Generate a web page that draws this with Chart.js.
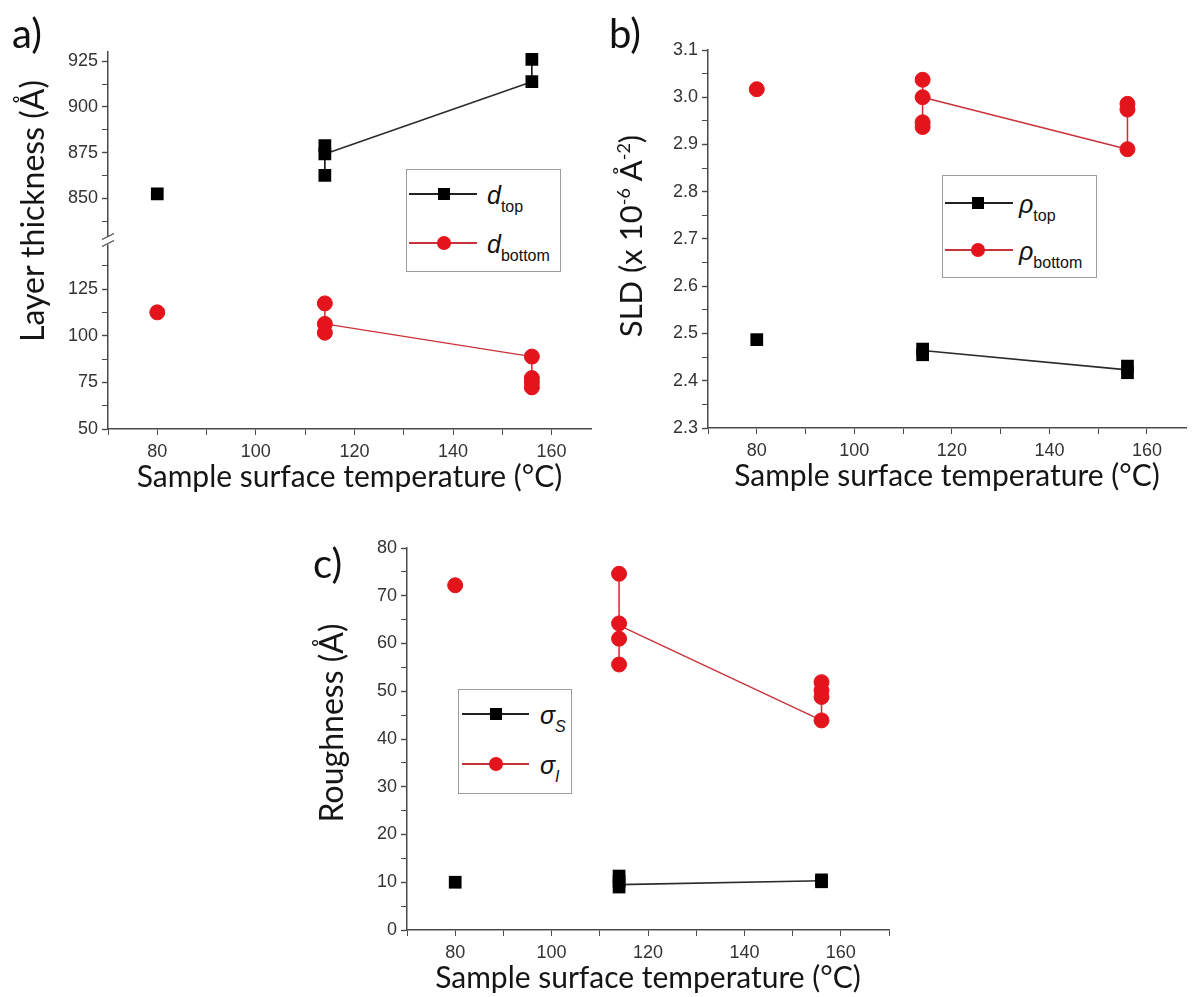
<!DOCTYPE html>
<html>
<head>
<meta charset="utf-8">
<script src="https://cdn.jsdelivr.net/npm/chart.js"></script>
<style>
  body { margin: 0; background: #fff; width: 1195px; height: 997px; overflow: hidden; position: relative; font-family: Lato, "Liberation Sans", sans-serif; }
  canvas { position: absolute; }
  .tag { position: absolute; font-size: 40px; line-height: 40px; color: #111; z-index: 2; }
  .ytitle { position: absolute; font-size: 32px; color: #151515; white-space: nowrap; transform: translate(-50%, -50%) rotate(-90deg); z-index: 2; }
  .ytitle sup { font-size: 18px; vertical-align: 12px; line-height: 0; }
  .legend { position: absolute; border: 1px solid #9d9d9d; background: #fff; z-index: 2; }
  .item { position: absolute; left: 0; right: 0; height: 0; }
  .ln { position: absolute; left: 2px; width: 68px; top: -1px; height: 1.6px; }
  .sq { position: absolute; top: -6px; width: 12px; height: 12px; background: #000; }
  .dot { position: absolute; top: -7px; width: 14px; height: 14px; border-radius: 50%; background: #e3141b; }
  .lab { position: absolute; top: -14px; line-height: 30px; font-family: "Liberation Sans", sans-serif; font-size: 25px; color: #111; white-space: nowrap; }
  .lab sub { font-size: 16px; font-style: normal; vertical-align: -8px; line-height: 0; }
  .lab sub.it { font-style: italic; }
</style>
</head>
<body>

<canvas id="chartA" width="600" height="499" style="left:0;top:0"></canvas>
<canvas id="chartB" width="595" height="498" style="left:600px;top:0"></canvas>
<canvas id="chartC" width="610" height="500" style="left:290px;top:500px"></canvas>

<div class="tag" style="left:12px;top:13px">a)</div>
<div class="tag" style="left:609px;top:13px">b)</div>
<div class="tag" style="left:313px;top:543px">c)</div>

<div class="ytitle" style="left:31px;top:211px">Layer thickness (Å)</div>
<div class="ytitle" style="left:630px;top:236px;font-size:31px">SLD (x 10<sup>-6</sup> Å<sup>-2</sup>)</div>
<div class="ytitle" style="left:330px;top:723px">Roughness (Å)</div>

<div class="legend" style="left:406px;top:169px;width:153px;height:101px">
  <div class="item" style="top:24px"><i class="ln" style="background:#222"></i><i class="sq" style="left:31px"></i><span class="lab" style="left:80px"><i>d</i><sub>top</sub></span></div>
  <div class="item" style="top:73px"><i class="ln" style="background:#c8323a"></i><i class="dot" style="left:30px"></i><span class="lab" style="left:80px"><i>d</i><sub>bottom</sub></span></div>
</div>
<div class="legend" style="left:942px;top:175px;width:153px;height:101px">
  <div class="item" style="top:27px"><i class="ln" style="background:#222"></i><i class="sq" style="left:29px"></i><span class="lab" style="left:76px"><i>ρ</i><sub>top</sub></span></div>
  <div class="item" style="top:74px"><i class="ln" style="background:#c8323a"></i><i class="dot" style="left:28px"></i><span class="lab" style="left:76px"><i>ρ</i><sub>bottom</sub></span></div>
</div>
<div class="legend" style="left:458px;top:689px;width:112px;height:103px">
  <div class="item" style="top:24px"><i class="ln" style="background:#222;left:3px;width:67px"></i><i class="sq" style="left:31px"></i><span class="lab" style="left:81px"><i>σ</i><sub class="it">S</sub></span></div>
  <div class="item" style="top:74px"><i class="ln" style="background:#c8323a;left:3px;width:67px"></i><i class="dot" style="left:30px"></i><span class="lab" style="left:81px"><i>σ</i><sub class="it">I</sub></span></div>
</div>

<script>
// ---- data ----
const TREND_T = [114, 156];

// a) layer thickness
const A_TEMP_TOP = [80, 114, 114, 114, 156, 156];
const A_D_TOP = [852.5, 878.8, 874.3, 862.6, 926, 913.8];
const A_D_TOP_TREND = [874.3, 913.8];
const A_TEMP_BOTTOM = [80, 114, 114, 114, 156, 156, 156, 156];
const A_D_BOTTOM = [112.5, 117.3, 106.3, 101.6, 88.8, 77.3, 75, 72.3];
const A_D_BOTTOM_TREND = [106.3, 88.8];
const A_TICKS_TOP = [850, 875, 900, 925];
const A_TICKS_BOTTOM = [50, 75, 100, 125];

// b) SLD
const B_TEMP_TOP = [80, 114, 114, 156, 156];
const B_RHO_TOP = [2.487, 2.467, 2.455, 2.431, 2.417];
const B_RHO_TOP_TREND = [2.464, 2.423];
const B_TEMP_BOTTOM = [80, 114, 114, 114, 114, 156, 156, 156];
const B_RHO_BOTTOM = [3.017, 3.037, 3.0, 2.947, 2.937, 2.986, 2.974, 2.89];
const B_RHO_BOTTOM_TREND = [3.0, 2.89];
const B_TICKS = [2.3, 2.4, 2.5, 2.6, 2.7, 2.8, 2.9, 3.0, 3.1];

// c) roughness
const C_TEMP_S = [80, 114, 114, 114, 156, 156];
const C_SIGMA_S = [10.0, 11.3, 10.2, 9.0, 10.5, 10.1];
const C_SIGMA_S_TREND = [9.5, 10.3];
const C_TEMP_I = [80, 114, 114, 114, 114, 156, 156, 156, 156];
const C_SIGMA_I = [72.2, 74.6, 64.2, 61.0, 55.6, 51.9, 50.2, 48.8, 43.9];
const C_SIGMA_I_TREND = [63.8, 43.9];
const C_TICKS = [0, 10, 20, 30, 40, 50, 60, 70, 80];

const X_TICKS = [80, 100, 120, 140, 160];

// ---- styling ----
const AXIS = '#4a4a4a';
const TICK_COLOR = '#333333';
const TICK_FONT = { family: 'Liberation Sans', size: 18 };
const TITLE_FONT = { family: 'Lato', size: 30 };
const BLACK = '#000000';
const RED = '#e3141b';
const RED_LINE = '#c8323a';

function pts(xs, ys) {
    return xs.map((x, i) => ({ x, y: ys[i] }));
}

// vertical segment joining the values measured at the same temperature
function ranges(xs, ys) {
    const out = [];
    [...new Set(xs)].forEach(t => {
        const v = ys.filter((_, i) => xs[i] === t);
        if (v.length < 2) return;
        out.push({ x: t, y: Math.min(...v) }, { x: t, y: Math.max(...v) }, { x: t, y: null });
    });
    return out;
}

function withMinors(majors, min, max) {
    const step = majors[1] - majors[0];
    const all = new Set(majors);
    majors.forEach(m => {
        [m - step / 2, m + step / 2].forEach(v => {
            if (v >= min - 1e-9 && v <= max + 1e-9) all.add(+v.toFixed(6));
        });
    });
    return [...all].sort((a, b) => a - b);
}

function series(xs, ys, trend, color, lineColor, style, yAxisID) {
    const isSq = style === 'rect';
    return [
        { data: pts(xs, ys), showLine: false, pointStyle: style, pointRadius: isSq ? 9 : 7.5, pointHoverRadius: isSq ? 9 : 7.5,
          backgroundColor: color, borderColor: color, borderWidth: isSq ? 0 : 1, yAxisID, order: 0 },
        { data: ranges(xs, ys), showLine: true, spanGaps: false, pointRadius: 0, borderColor: isSq ? BLACK : '#d9262b',
          borderWidth: 1.5, yAxisID, order: 1 },
        { data: pts(TREND_T, trend), showLine: true, pointRadius: 0, borderColor: lineColor, borderWidth: isSq ? 1.6 : 1.4,
          yAxisID, order: 1 }
    ];
}

function yScale(min, max, majors, fmt, width, extra) {
    const majorSet = new Set(majors);
    const values = withMinors(majors, min, max);
    return Object.assign({
        axis: 'y', type: 'linear', position: 'left', min, max,
        border: { color: AXIS, width: 1.5 },
        grid: { drawOnChartArea: false, drawTicks: true, tickLength: 6, tickColor: AXIS,
                tickWidth: ctx => majorSet.has(ctx.tick && ctx.tick.value) ? 1.4 : 1 },
        ticks: { autoSkip: false, padding: 4, color: TICK_COLOR, font: TICK_FONT,
                 callback: v => majorSet.has(v) ? fmt(v) : '' },
        afterBuildTicks: s => { s.ticks = values.map(value => ({ value })); },
        afterFit: s => { s.width = width; }
    }, extra || {});
}

function xScale(min, max) {
    const majorSet = new Set(X_TICKS);
    const values = withMinors(X_TICKS, min, max);
    return {
        axis: 'x', type: 'linear', position: 'bottom', min, max,
        border: { color: AXIS, width: 1.5 },
        grid: { drawOnChartArea: false, drawTicks: true, tickLength: 6, tickColor: AXIS },
        ticks: { autoSkip: false, maxRotation: 0, padding: 6, color: TICK_COLOR, font: TICK_FONT,
                 callback: v => majorSet.has(v) ? String(v) : '' },
        title: { display: true, text: 'Sample surface temperature (°C)', color: '#151515', font: TITLE_FONT,
                 padding: { top: 4, bottom: 4 } },
        afterBuildTicks: s => { s.ticks = values.map(value => ({ value })); },
        afterFit: s => { s.height = 70; }
    };
}

// "//" mark where the thickness axis is cut
const axisBreak = {
    id: 'axisBreak',
    afterDraw(chart) {
        const s = chart.scales.yTop;
        const ctx = chart.ctx;
        const x = s.right, y = s.bottom;
        ctx.save();
        ctx.fillStyle = '#fff';
        ctx.fillRect(x - 3, y - 4, 6, 8);
        ctx.strokeStyle = AXIS;
        ctx.lineWidth = 1.3;
        ctx.beginPath();
        ctx.moveTo(x - 6, y - 1); ctx.lineTo(x + 6, y - 7);
        ctx.moveTo(x - 6, y + 6); ctx.lineTo(x + 6, y);
        ctx.stroke();
        ctx.restore();
    }
};

function makeChart(id, datasets, scales, padding, plugins) {
    return new Chart(document.getElementById(id), {
        type: 'scatter',
        data: { datasets },
        options: {
            responsive: false,
            animation: false,
            devicePixelRatio: 1,
            layout: { padding },
            plugins: { legend: { display: false }, tooltip: { enabled: false } },
            scales
        },
        plugins: plugins || []
    });
}

// ---- a) ---- (yBot listed first so that the stack puts yTop above it)
makeChart('chartA', [
    ...series(A_TEMP_TOP, A_D_TOP, A_D_TOP_TREND, BLACK, '#2b2b2b', 'rect', 'yTop'),
    ...series(A_TEMP_BOTTOM, A_D_BOTTOM, A_D_BOTTOM_TREND, RED, RED_LINE, 'circle', 'yBot')
], {
    x: xScale(70, 168),
    yBot: yScale(50, 151, A_TICKS_BOTTOM, v => String(v), 108, { stack: 'thk', stackWeight: 1 }),
    yTop: yScale(827, 930, A_TICKS_TOP, v => String(v), 108, { stack: 'thk', stackWeight: 1 })
}, { left: 0, top: 52, right: 8, bottom: 0 }, [axisBreak]);

// ---- b) ----
makeChart('chartB', [
    ...series(B_TEMP_TOP, B_RHO_TOP, B_RHO_TOP_TREND, BLACK, '#2b2b2b', 'rect', 'y'),
    ...series(B_TEMP_BOTTOM, B_RHO_BOTTOM, B_RHO_BOTTOM_TREND, RED, RED_LINE, 'circle', 'y')
], {
    x: xScale(70, 168),
    y: yScale(2.3, 3.1, B_TICKS, v => v.toFixed(1), 108)
}, { left: 0, top: 50, right: 2, bottom: 0 });

// ---- c) ----
makeChart('chartC', [
    ...series(C_TEMP_S, C_SIGMA_S, C_SIGMA_S_TREND, BLACK, '#2b2b2b', 'rect', 'y'),
    ...series(C_TEMP_I, C_SIGMA_I, C_SIGMA_I_TREND, RED, RED_LINE, 'circle', 'y')
], {
    x: xScale(70, 170),
    y: yScale(0, 80, C_TICKS, v => String(v), 117)
}, { left: 0, top: 48, right: 11, bottom: 0 });
</script>
</body>
</html>
